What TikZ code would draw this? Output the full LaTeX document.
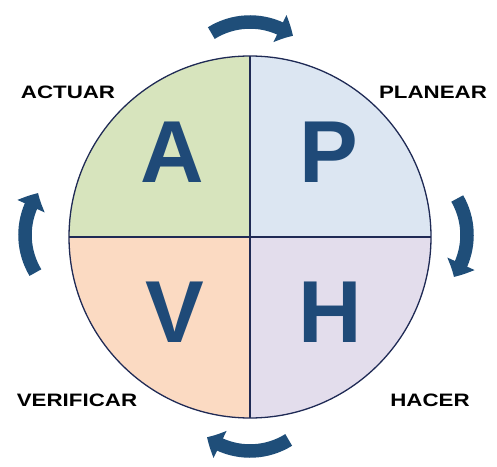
\documentclass[tikz,border=0pt]{standalone}
\usepackage{fontspec}
\setmainfont{Liberation Sans}
\usepackage{graphicx}
\usetikzlibrary{arrows.meta,bending}
\definecolor{qA}{HTML}{D7E4BD}
\definecolor{qP}{HTML}{DCE6F2}
\definecolor{qV}{HTML}{FBDAC2}
\definecolor{qH}{HTML}{E3DDEC}
\definecolor{border}{HTML}{1F2A55}
\definecolor{letterc}{HTML}{1F4A78}
\definecolor{arrowc}{HTML}{1F4E79}
\tikzset{
  borderline/.style={draw=border, line width=1.3pt},
  letter/.style={text=letterc, inner sep=0pt, font=\fontsize{88}{88}\selectfont\bfseries},
  lab/.style={text=black, inner sep=0pt, font=\fontsize{18}{18}\selectfont\bfseries},
  cyc/.style={draw=arrowc, line width=13.5pt, -{Triangle[width=29pt,length=15pt,bend]}}
}
\newcommand{\wide}[1]{\scalebox{1.24}[1]{#1}}
\begin{document}
\begin{tikzpicture}[x=1pt,y=1pt]
\useasboundingbox (0,0) rectangle (497,466);
\coordinate (C) at (250,229);
\coordinate (W) at (69,229);
\coordinate (E) at (431,229);
\coordinate (N) at (250,410);
\coordinate (S) at (250,48);
% quadrants
\fill[qA] (C) -- (W) arc[start angle=180,end angle=90,radius=181] -- cycle;
\fill[qP] (C) -- (N) arc[start angle=90,end angle=0,radius=181] -- cycle;
\fill[qH] (C) -- (E) arc[start angle=0,end angle=-90,radius=181] -- cycle;
\fill[qV] (C) -- (S) arc[start angle=270,end angle=180,radius=181] -- cycle;
\draw[borderline] (C) circle[radius=181];
\draw[borderline] (W) -- (E);
\draw[borderline] (N) -- (S);
% letters
\node[letter] (A) at (172,314) {A};
\node[letter] (P) at (329,314) {P};
\node[letter] (V) at (175,154) {V};
\node[letter] (H) at (330,154) {H};
% labels
\node[lab] (actuar) at (68,374) {\wide{ACTUAR}};
\node[lab] (planear) at (433,374) {\wide{PLANEAR}};
\node[lab] (verificar) at (77,66) {\wide{VERIFICAR}};
\node[lab] (hacer) at (430,66) {\wide{HACER}};
% cycle arrows
\draw[cyc] ([shift={(122:73)}]250,371) arc[start angle=122,end angle=54,radius=73];
\draw[cyc] ([shift={(30:73)}]394,231) arc[start angle=30,end angle=-35,radius=73];
\draw[cyc] ([shift={(-58:73)}]250,88) arc[start angle=-58,end angle=-126,radius=73];
\draw[cyc] ([shift={(211:73)}]98,231) arc[start angle=211,end angle=145,radius=73];
\end{tikzpicture}
\end{document}
